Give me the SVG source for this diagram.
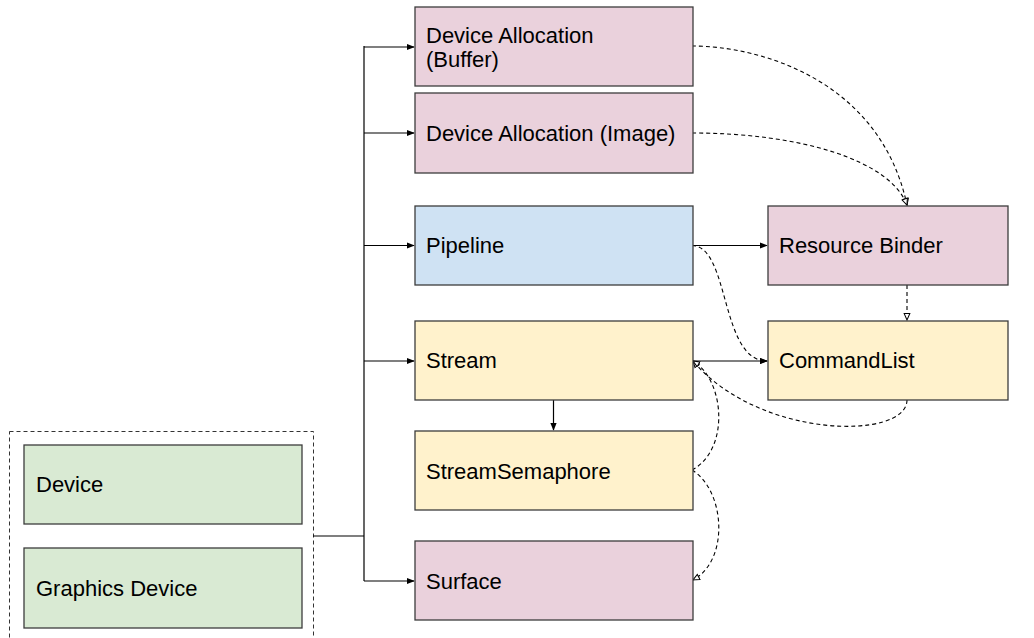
<svg xmlns="http://www.w3.org/2000/svg" width="1034" height="638" viewBox="0 0 1034 638">
<style>
.box{stroke:#3c3c3c;stroke-width:1.3}
.pink{fill:#ead1dc}.blue{fill:#cfe2f3}.yellow{fill:#fff2cc}.green{fill:#d9ead3}
text{font-family:"Liberation Sans",Arial,sans-serif;font-size:22px;fill:#000}
.solid{fill:none;stroke:#000;stroke-width:1.2}
.dash{fill:none;stroke:#000;stroke-width:1.1;stroke-dasharray:4,3}
</style>
<defs>
<marker id="af" viewBox="0 0 10 10" refX="9" refY="5" markerWidth="8" markerHeight="8" markerUnits="userSpaceOnUse" orient="auto">
<path d="M0,1 L10,5 L0,9 Z" fill="#000"/>
</marker>
<marker id="ao" viewBox="0 0 10 10" refX="9" refY="5" markerWidth="8" markerHeight="8" markerUnits="userSpaceOnUse" orient="auto">
<path d="M1,1.5 L9,5 L1,8.5 Z" fill="#fff" stroke="#000" stroke-width="1.3"/>
</marker>
</defs>
<rect id="group" x="9.5" y="431.5" width="304" height="240" fill="none" stroke="#333" stroke-width="1" stroke-dasharray="4,3"/>
<g id="connectors">
<path class="solid" d="M313,536 H364" stroke-width="2"/>
<path class="solid" d="M364,536 V46" stroke-width="1.8"/>
<path class="solid" d="M364,536 V581" />
<path class="solid" d="M364,47 H414" marker-end="url(#af)"/>
<path class="solid" d="M364,133 H414" marker-end="url(#af)"/>
<path class="solid" d="M364,245.5 H414" marker-end="url(#af)"/>
<path class="solid" d="M364,361 H414" marker-end="url(#af)"/>
<path class="solid" d="M364,581 H414" marker-end="url(#af)"/>
<path class="solid" d="M553.5,400 V430" marker-end="url(#af)"/>
<path class="solid" d="M692,245.5 H767" marker-end="url(#af)"/>
<path class="solid" d="M692,361 H767" marker-end="url(#af)"/>
<path class="dash" d="M907,285 V320" marker-end="url(#ao)"/>
<path class="dash" d="M692,46 C760,46 880,80 907,205" marker-end="url(#ao)"/>
<path class="dash" d="M692,133 C800,133 890,160 907,205" marker-end="url(#ao)"/>
<path class="dash" d="M692,245.5 C730,246 720,361 767,361" marker-end="url(#af)"/>
<path class="dash" d="M907,400 C907,440 760,440 693,361" marker-end="url(#ao)"/>
<path class="dash" d="M692,470 C730,450 725,380 693,361" marker-end="url(#ao)"/>
<path class="dash" d="M692,470 C725,490 730,560 693,580" marker-end="url(#ao)"/>
</g>
<g id="device"><rect class="box green" x="24" y="445" width="278" height="79"/><text x="36" y="492">Device</text></g>
<g id="graphics-device"><rect class="box green" x="24" y="548" width="278" height="80"/><text x="36" y="596">Graphics Device</text></g>
<g id="alloc-buffer"><rect class="box pink" x="415" y="7" width="278" height="79"/><text x="426" y="43">Device Allocation</text><text x="426" y="67">(Buffer)</text></g>
<g id="alloc-image"><rect class="box pink" x="415" y="93" width="278" height="80"/><text x="426" y="140.5">Device Allocation (Image)</text></g>
<g id="pipeline"><rect class="box blue" x="415" y="206" width="278" height="79"/><text x="426" y="253">Pipeline</text></g>
<g id="stream"><rect class="box yellow" x="415" y="321" width="278" height="79"/><text x="426" y="368">Stream</text></g>
<g id="stream-semaphore"><rect class="box yellow" x="415" y="431" width="278" height="79"/><text x="426" y="478.5">StreamSemaphore</text></g>
<g id="surface"><rect class="box pink" x="415" y="541" width="278" height="79"/><text x="426" y="588.5">Surface</text></g>
<g id="resource-binder"><rect class="box pink" x="768" y="206" width="240" height="79"/><text x="779" y="253">Resource Binder</text></g>
<g id="commandlist"><rect class="box yellow" x="768" y="321" width="240" height="79"/><text x="779" y="368">CommandList</text></g>
</svg>
